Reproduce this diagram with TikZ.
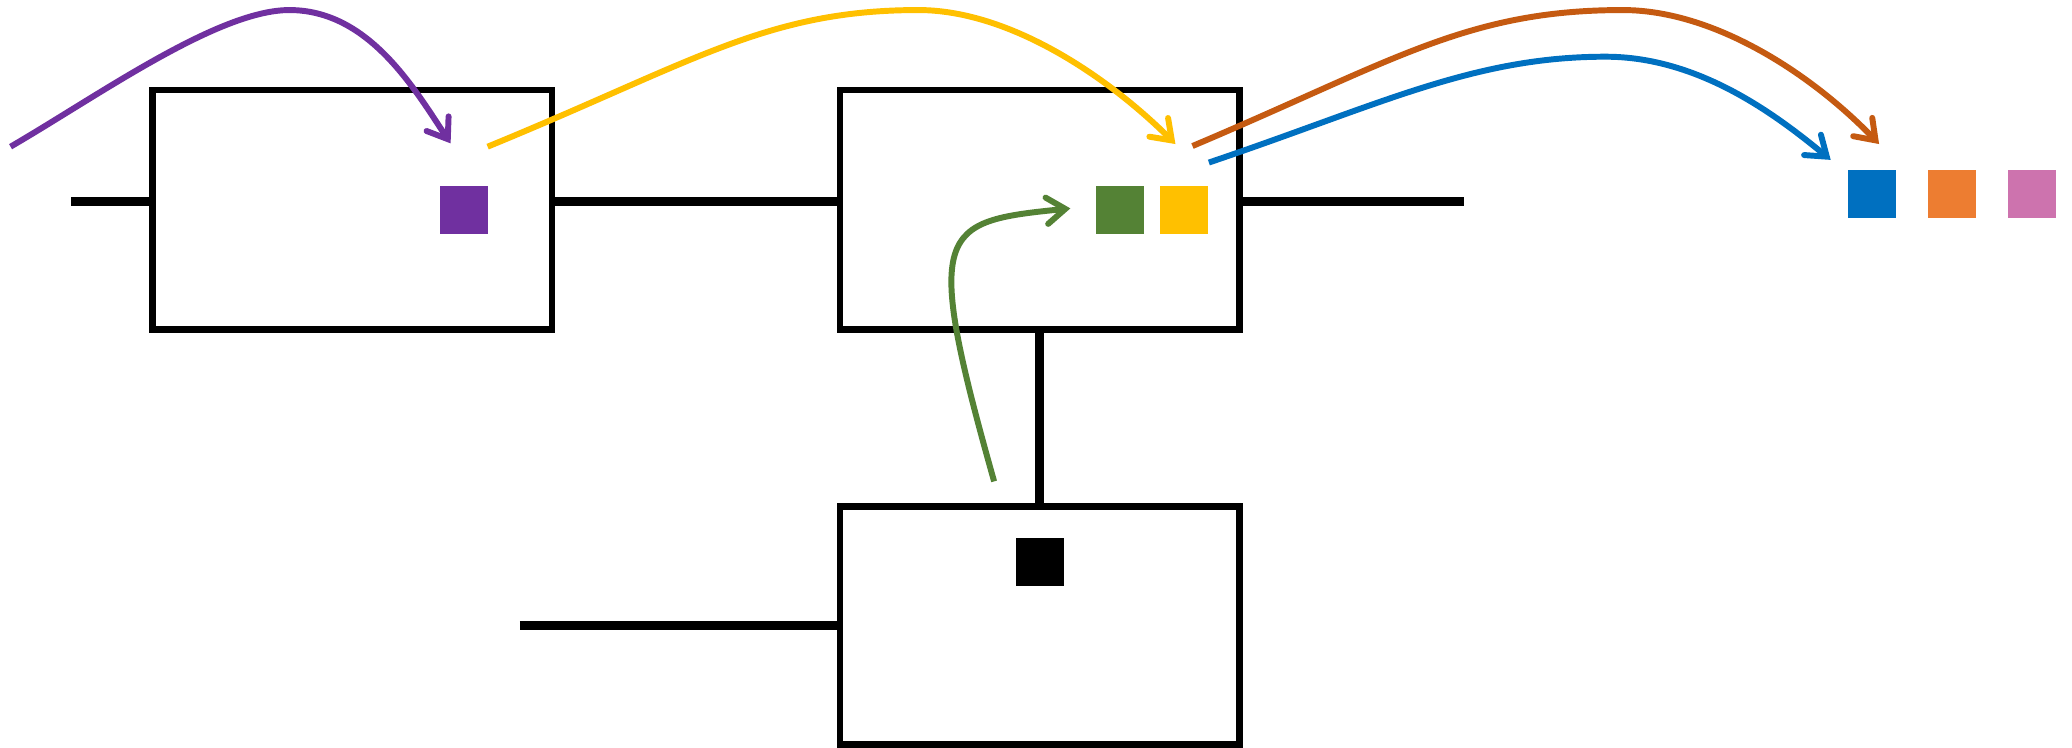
\documentclass[tikz,border=0pt]{standalone}
\usetikzlibrary{arrows.meta}
\definecolor{cpurple}{HTML}{7030A0}
\definecolor{cyellow}{HTML}{FFC000}
\definecolor{cgreen}{HTML}{548235}
\definecolor{cdorange}{HTML}{C55A11}
\definecolor{cblue}{HTML}{0070C0}
\definecolor{corange}{HTML}{ED7D31}
\definecolor{cpink}{HTML}{CD73AE}
\tikzset{
  blk/.style={draw=black, line width=5pt, rectangle, inner sep=0pt, minimum width=302.4pt, minimum height=181pt},
  sq/.style={rectangle, inner sep=0pt, minimum size=36.3pt, draw=none},
  wire/.style={line width=6.5pt, black},
  arr/.style={line width=4.5pt, -{Straight Barb[length=14pt,width=20pt,line cap=round,line join=miter]}},
}
\begin{document}
\begin{tikzpicture}[x=1pt,y=-1pt]
\path[use as bounding box, fill=white] (0,0) rectangle (1568,566);
% boxes
\node[blk] (b1) at (266.4,158.75) {};
\node[blk] (b2) at (786.85,158.75) {};
\node[blk, minimum height=180pt] (b3) at (787,473.2) {};
% wire end coordinates
\coordinate (wl) at (54,152.6);
\coordinate (wr) at (1107.5,152.6);
\coordinate (wb) at (393.5,473.2);
\coordinate (wv) at (786.85,300);
% wires
\draw[wire] (wl) -- (wl -| b1.west);
\draw[wire] (wl -| b1.east) -- (wl -| b2.west);
\draw[wire] (wr -| b2.east) -- (wr);
\draw[wire] (wv |- b2.south) -- (wv |- b3.north);
\draw[wire] (wb) -- (b3.west);
% squares
\node[sq, fill=cpurple] (sp) at (351,159) {};
\node[sq, fill=cgreen] (sg) at (847.6,159) {};
\node[sq, fill=cyellow] (sy) at (896,159) {};
\node[sq, fill=black] (sk) at (787.2,425.3) {};
\node[sq, fill=cblue] (sb) at (1416.6,146.9) {};
\node[sq, fill=corange] (so) at (1477.2,146.9) {};
\node[sq, fill=cpink] (si) at (1537.9,146.9) {};
% arrow coordinates
\coordinate (pS) at (8,111);
\coordinate (pT) at (219,7.6);
\coordinate (pE) at (341,108.5);
\coordinate (yS) at (369,111);
\coordinate (yT) at (695,7.6);
\coordinate (yE) at (889.5,109);
\coordinate (oS) at (902.4,110.5);
\coordinate (oT) at (1228,7.6);
\coordinate (oE) at (1422,109);
\coordinate (bS) at (914.8,123);
\coordinate (bT) at (1215,42.9);
\coordinate (bE) at (1385.4,121);
\coordinate (gS) at (752.3,364.3);
\coordinate (gE) at (810,157.7);
% arrows
\draw[arr, cpurple] (pS) .. controls (75,72) and (165,7.6) .. (pT)
  .. controls (279,7.6) and (313.5,67) .. (pE);
\draw[arr, cyellow] (yS) .. controls (525,47) and (580,7.6) .. (yT)
  .. controls (765,7.6) and (840,59.5) .. (yE);
\draw[arr, cdorange] (oS) .. controls (1055,46) and (1110,7.6) .. (oT)
  .. controls (1298,7.6) and (1372,57) .. (oE);
\draw[arr, cblue] (bS) .. controls (1045,79) and (1115,42.9) .. (bT)
  .. controls (1285,42.9) and (1343,86) .. (bE);
\draw[arr, cgreen] (gS) .. controls (698,172) and (710,167.7) .. (gE);
\end{tikzpicture}
\end{document}
